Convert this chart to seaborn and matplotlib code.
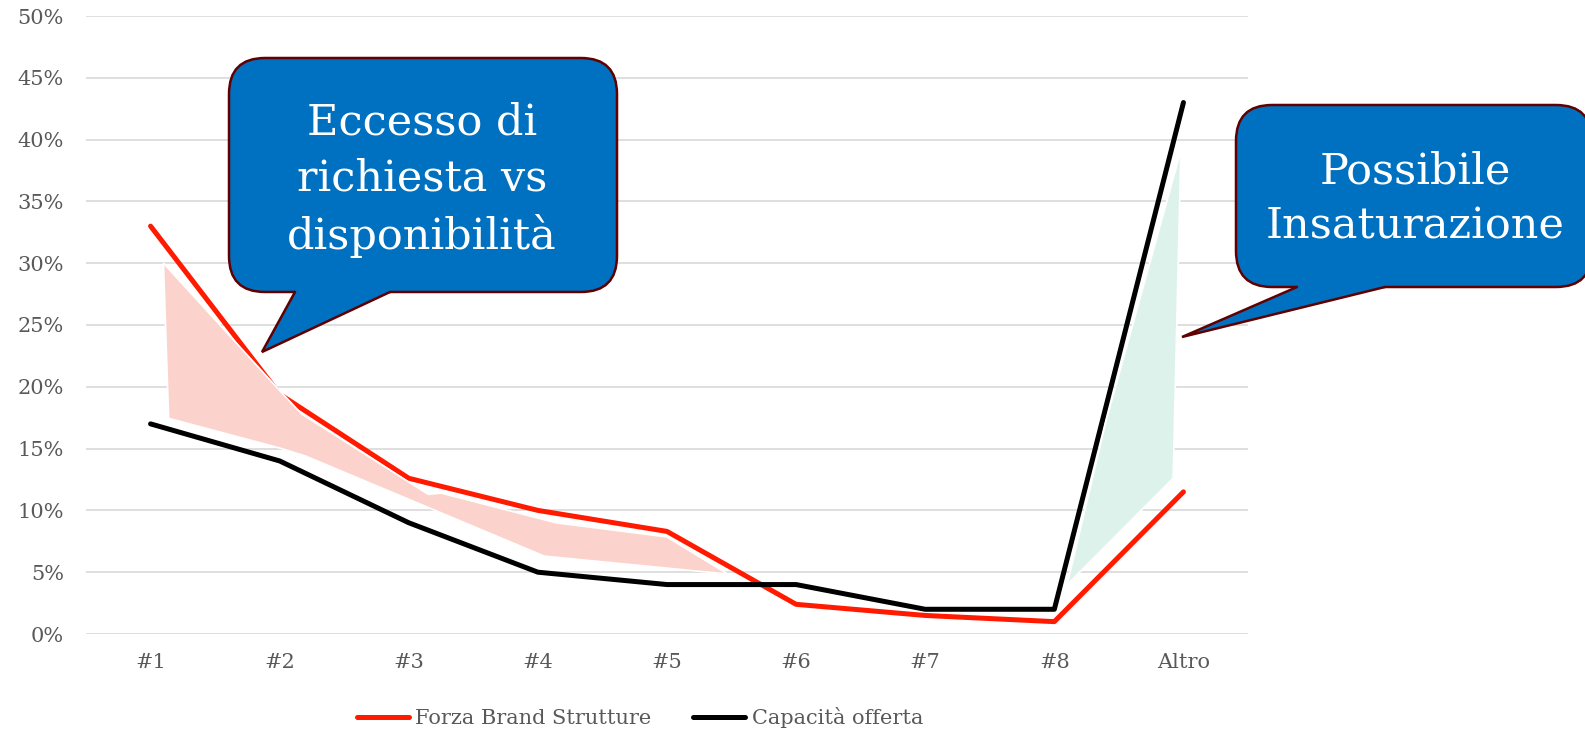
import pandas as pd
import matplotlib.pyplot as plt
import seaborn as sns
from matplotlib.patches import FancyBboxPatch, Polygon
from matplotlib.lines import Line2D
from matplotlib.ticker import PercentFormatter, MultipleLocator

# Values (shares, 0-1)
categories = ['#1', '#2', '#3', '#4', '#5', '#6', '#7', '#8', 'Altro']
forza_brand = [0.330, 0.194, 0.126, 0.100, 0.083, 0.024, 0.015, 0.010, 0.115]
capacita = [0.170, 0.140, 0.090, 0.050, 0.040, 0.040, 0.020, 0.020, 0.430]

# Hand-drawn highlight areas (category position, share)
eccesso_x = [0.10, 1.00, 1.17, 2.15, 2.25, 3.14, 4.00, 4.47, 3.05, 1.20, 1.00, 0.14]
eccesso_y = [0.300, 0.197, 0.178, 0.113, 0.114, 0.090, 0.0785, 0.0485, 0.063, 0.144, 0.1505, 0.1745]
insat_x = [7.10, 7.40, 7.98, 7.92]
insat_y = [0.040, 0.172, 0.391, 0.126]

RED = '#ff1a00'
GREY = '#595959'
BLUE = '#0070c0'
EDGE = '#600000'
W, H = 1585, 731

sns.set_theme(style="white")
plt.rcParams['font.family'] = ['DejaVu Serif']

fig = plt.figure(figsize=(W / 100, H / 100), dpi=100)
ax = fig.add_axes([86 / W, 1 - 634 / H, (1248 - 86) / W, (634 - 16) / H])

df = pd.DataFrame({
    'Categoria': categories * 2,
    'Quota': forza_brand + capacita,
    'Serie': ['Forza Brand Strutture'] * len(categories) + ['Capacità offerta'] * len(categories),
})
sns.lineplot(data=df, x='Categoria', y='Quota', hue='Serie', sort=False,
             palette={'Forza Brand Strutture': RED, 'Capacità offerta': 'black'},
             linewidth=3.6, solid_capstyle='round', legend=False, ax=ax, zorder=2)

# shaded areas sit on top of the lines, with a thin white rim
ax.add_patch(Polygon(list(zip(eccesso_x, eccesso_y)), closed=True, fc='#fcd3cc',
                     ec='white', lw=1.2, zorder=3))
ax.add_patch(Polygon(list(zip(insat_x, insat_y)), closed=True, fc='#dcf2ea',
                     ec='white', lw=1.2, zorder=3))

ax.set_xlim(-0.5, len(categories) - 0.5)
ax.set_ylim(0, 0.5)
ax.yaxis.set_major_locator(MultipleLocator(0.05))
ax.yaxis.set_major_formatter(PercentFormatter(1, decimals=0))
ax.grid(axis='y', color='#d9d9d9', lw=1.2)
ax.grid(axis='x', visible=False)
ax.set_axisbelow(True)
for s in ax.spines.values():
    s.set_visible(False)
ax.set_xlabel('')
ax.set_ylabel('')
ax.tick_params(axis='both', length=0, labelsize=15, labelcolor=GREY)
ax.tick_params(axis='y', pad=16)
ax.tick_params(axis='x', pad=14)

handles = [Line2D([], [], color=RED, lw=3.6, solid_capstyle='round'),
           Line2D([], [], color='black', lw=3.6, solid_capstyle='round')]
fig.legend(handles, ['Forza Brand Strutture', 'Capacità offerta'], loc='center',
           bbox_to_anchor=(640 / W, 1 - 718 / H), ncol=2, frameon=False,
           fontsize=15, labelcolor=GREY, handlelength=2.5, handletextpad=0.3,
           columnspacing=2.0)


def bubble(left, top, right, bottom, tail, text, center):
    # geometry in figure pixels measured from the top-left corner
    def P(x, y):
        return (x / 100, (H - y) / 100)
    tr = fig.dpi_scale_trans
    x0, y0 = P(left, bottom)
    box = FancyBboxPatch((x0, y0), (right - left) / 100, (bottom - top) / 100,
                         boxstyle="round,pad=0,rounding_size=0.36", transform=tr,
                         fc=BLUE, ec=EDGE, lw=1.8)
    fig.add_artist(box)
    b1, b2, tip = tail
    fig.add_artist(Polygon([P(b1, bottom - 5), P(b1, bottom), P(*tip), P(b2, bottom), P(b2, bottom - 5)],
                           closed=True, transform=tr, fc=BLUE, ec='none'))
    xs, ys = zip(P(b1, bottom), P(*tip), P(b2, bottom))
    fig.add_artist(Line2D(xs, ys, transform=tr, color=EDGE, lw=1.8, solid_joinstyle='miter'))
    cx, cy = P(*center)
    fig.text(cx, cy, text, transform=tr, ha='center', va='center', color='white',
             fontsize=31, linespacing=1.42)


bubble(229, 58, 617, 292, (295, 390, (262, 352)), 'Eccesso di\nrichiesta vs\ndisponibilità', (422, 180))
bubble(1236, 105, 1592, 287, (1297, 1385, (1182, 337)), 'Possibile\nInsaturazione', (1415, 199))

fig.savefig('out.png', dpi=100)
